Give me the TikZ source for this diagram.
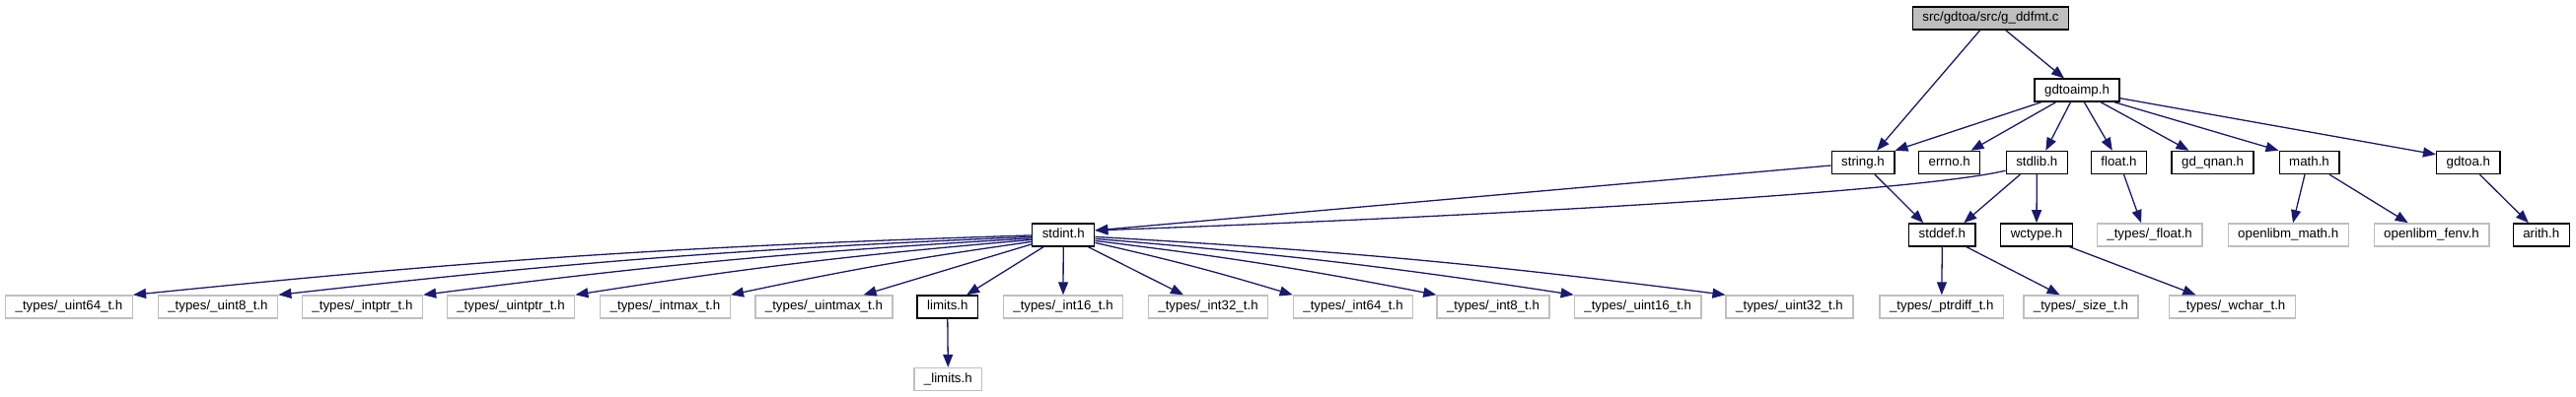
\documentclass[tikz,border=0pt]{standalone}
\usepackage{fontspec}
\setmainfont{Liberation Sans}
\usetikzlibrary{arrows.meta}
\definecolor{edgecol}{HTML}{191970}
\definecolor{graybd}{HTML}{BFBFBF}
\definecolor{topfill}{HTML}{BFBFBF}
\begin{document}
\begin{tikzpicture}[x=1pt,y=1pt,
  box/.style={draw=black, line width=1.4pt, fill=white, minimum height=23pt, inner xsep=10pt, inner ysep=0pt,
    font=\fontsize{13.3}{15}\selectfont, text height=9.6pt, text depth=2.8pt, anchor=center},
  gbox/.style={box, draw=graybd},
  topbox/.style={box, fill=topfill},
  edge/.style={draw=edgecol, line width=1.3pt, -{Triangle[length=13pt,width=10pt]}}]
\useasboundingbox (0,0) rectangle (2612,-403);

% row 0 / 1
\node[topbox] (top) at (2018.5,-18.5) {src/gdtoa/src/g\_ddfmt.c};
\node[box] (gdtoaimp) at (2106,-91.7) {gdtoaimp.h};
% row 2
\node[box] (string) at (1889,-165) {string.h};
\node[box] (errno) at (1976.7,-165) {errno.h};
\node[box] (stdlib) at (2065.3,-165) {stdlib.h};
\node[box] (float) at (2148.5,-165) {float.h};
\node[box] (gdqnan) at (2243.6,-165) {gd\_qnan.h};
\node[box] (math) at (2341.5,-165) {math.h};
\node[box] (gdtoa) at (2502.8,-165) {gdtoa.h};
% row 3
\node[box] (stdint) at (1078.2,-238.4) {stdint.h};
\node[box] (stddef) at (1969.3,-238.4) {stddef.h};
\node[box] (wctype) at (2065,-238.4) {wctype.h};
\node[gbox] (tfloat) at (2179.6,-238.4) {\_types/\_float.h};
\node[gbox] (olmath) at (2320.2,-238.4) {openlibm\_math.h};
\node[gbox] (olfenv) at (2465.5,-238.4) {openlibm\_fenv.h};
\node[box] (arith) at (2576.7,-238.4) {arith.h};
% row 4
\node[gbox] (uint64) at (70,-311.5) {\_types/\_uint64\_t.h};
\node[gbox] (uint8) at (221,-311.5) {\_types/\_uint8\_t.h};
\node[gbox] (intptr) at (367.5,-311.5) {\_types/\_intptr\_t.h};
\node[gbox] (uintptr) at (518,-311.5) {\_types/\_uintptr\_t.h};
\node[gbox] (intmax) at (674.5,-311.5) {\_types/\_intmax\_t.h};
\node[gbox] (uintmax) at (835.4,-311.5) {\_types/\_uintmax\_t.h};
\node[box] (limits) at (960.8,-311.5) {limits.h};
\node[gbox] (int16) at (1078,-311.5) {\_types/\_int16\_t.h};
\node[gbox] (int32) at (1225,-311.5) {\_types/\_int32\_t.h};
\node[gbox] (int64) at (1372,-311.5) {\_types/\_int64\_t.h};
\node[gbox] (int8) at (1514,-311.5) {\_types/\_int8\_t.h};
\node[gbox] (uint16) at (1660.7,-311.5) {\_types/\_uint16\_t.h};
\node[gbox] (uint32) at (1814.5,-311.5) {\_types/\_uint32\_t.h};
\node[gbox] (ptrdiff) at (1968.8,-311.5) {\_types/\_ptrdiff\_t.h};
\node[gbox] (sizet) at (2109.9,-311.5) {\_types/\_size\_t.h};
\node[gbox] (wchart) at (2263.4,-311.5) {\_types/\_wchar\_t.h};
% row 5
\node[gbox] (tlimits) at (961.3,-385) {\_limits.h};

% edges from top
\draw[edge] ([xshift=69pt]top.south west) -- ([xshift=14pt]string.north);
\draw[edge] ([xshift=95pt]top.south west) -- ([xshift=-13pt]gdtoaimp.north);
% edges from gdtoaimp
\draw[edge] ([xshift=7pt]gdtoaimp.south west) -- (string.north east);
\draw[edge] ([xshift=22pt]gdtoaimp.south west) -- ([xshift=-10pt]errno.north east);
\draw[edge] ([xshift=37pt]gdtoaimp.south west) -- ([xshift=9pt]stdlib.north);
\draw[edge] ([xshift=51pt]gdtoaimp.south west) -- ([xshift=-6.7pt]float.north);
\draw[edge] ([xshift=68pt]gdtoaimp.south west) -- ([xshift=18pt]gdqnan.north west);
\draw[edge] ([xshift=82pt]gdtoaimp.south west) -- (math.north west);
\draw[edge] ([yshift=-8pt]gdtoaimp.east) -- ([yshift=-4pt]gdtoa.north west);
% row 2 -> row 3
\draw[edge] ([yshift=-3pt]string.west) -- ([yshift=4.5pt]stdint.east);
\draw[edge] ([yshift=4pt]stdlib.south west) .. controls +(-93,-22) and +(390,14) .. ([yshift=4.5pt]stdint.east);
\draw[edge] ([xshift=12pt]string.south) -- ([xshift=-19pt]stddef.north);
\draw[edge] ([xshift=-17pt]stdlib.south) -- ([xshift=22pt]stddef.north);
\draw[edge] (stdlib.south) -- (wctype.north);
\draw[edge] ([xshift=5pt]float.south) -- ([xshift=-8.6pt]tfloat.north);
\draw[edge] ([xshift=-4.5pt]math.south) -- ([xshift=4.8pt]olmath.north);
\draw[edge] ([xshift=20.5pt]math.south) -- ([xshift=-23.8pt]olfenv.north);
\draw[edge] ([xshift=11.6pt]gdtoa.south) -- ([xshift=-12.8pt]arith.north);
% row 3 -> row 4
\draw[edge] (stddef.south) -- (ptrdiff.north);
\draw[edge] ([xshift=24.5pt]stddef.south) -- ([xshift=-21.3pt]sizet.north);
\draw[edge] ([xshift=33.5pt]wctype.south) -- ([xshift=-37pt]wchart.north);
% stdint fan left
\draw[edge] ([yshift=-0.5pt]stdint.west) to[bend right=2] (uint64.north east);
\draw[edge] ([yshift=-2pt]stdint.west) to[bend right=2] (uint8.north east);
\draw[edge] ([yshift=-3.5pt]stdint.west) to[bend right=2] (intptr.north east);
\draw[edge] ([yshift=-5pt]stdint.west) to[bend right=2] (uintptr.north east);
\draw[edge] ([yshift=-7pt]stdint.west) to[bend right=2] (intmax.north east);
\draw[edge] ([yshift=-9.5pt]stdint.west) -- ([xshift=-30pt]uintmax.north east);
\draw[edge] ([xshift=-20pt]stdint.south) -- ([xshift=-12pt]limits.north east);
% stdint fan right
\draw[edge] (stdint.south) -- (int16.north);
\draw[edge] ([xshift=25pt]stdint.south) -- ([xshift=-25pt]int32.north);
\draw[edge] ([yshift=-8pt]stdint.east) to[bend left=2] (int64.north west);
\draw[edge] ([yshift=-6pt]stdint.east) to[bend left=2] (int8.north west);
\draw[edge] ([yshift=-4pt]stdint.east) to[bend left=2] (uint16.north west);
\draw[edge] ([yshift=-2pt]stdint.east) to[bend left=2] (uint32.north west);
% limits
\draw[edge] (limits.south) -- (tlimits.north);
\end{tikzpicture}
\end{document}
